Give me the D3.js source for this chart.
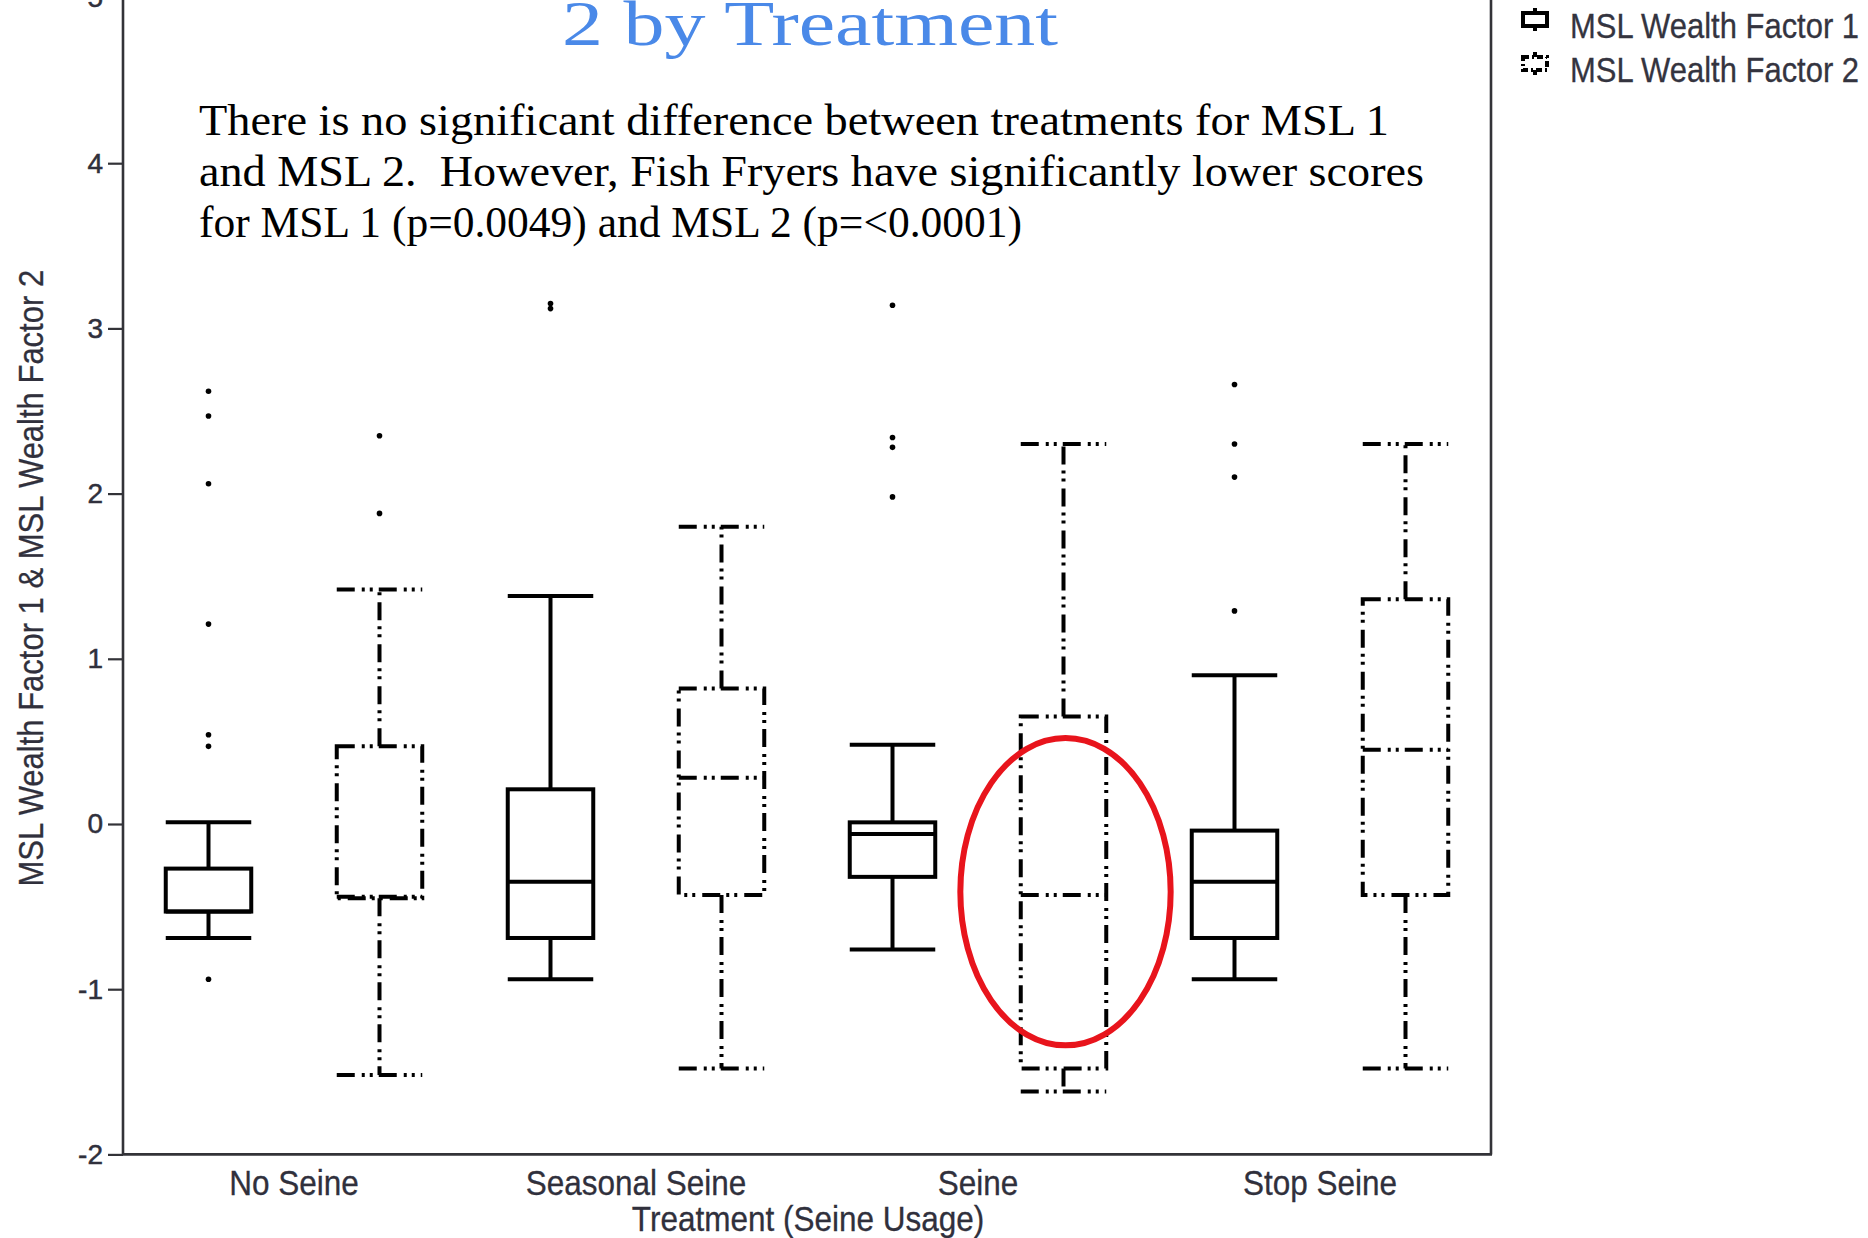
<!DOCTYPE html>
<html><head><meta charset="utf-8">
<script src="https://cdn.jsdelivr.net/npm/d3@7"></script>
<style>body{margin:0;background:#fff;} svg{display:block;} text{white-space:pre;}</style>
</head><body><svg id="chart" width="1868" height="1238"></svg>
<script>
// ---------- data ----------
const categories = ["No Seine", "Seasonal Seine", "Seine", "Stop Seine"];
const seriesNames = ["MSL Wealth Factor 1", "MSL Wealth Factor 2"];
// [lower whisker, Q1, median, Q3, upper whisker]
const factor1Stats = [
  [-0.69, -0.53, -0.53, -0.27, 0.01],
  [-0.94, -0.69, -0.35, 0.21, 1.38],
  [-0.76, -0.32, -0.06, 0.01, 0.48],
  [-0.94, -0.69, -0.35, -0.04, 0.90]
];
const factor2Stats = [
  [-1.52, -0.45, -0.44, 0.47, 1.42],
  [-1.48, -0.43, 0.28, 0.82, 1.80],
  [-1.62, -1.48, -0.43, 0.65, 2.30],
  [-1.48, -0.43, 0.45, 1.36, 2.30]
];
const factor1Outliers = [
  [2.62, 2.47, 2.06, 1.21, 0.54, 0.47, -0.94],
  [3.15, 3.12],
  [3.14, 2.34, 2.28, 1.98],
  [2.66, 2.30, 2.10, 1.29]
];
const factor2Outliers = [[2.35, 1.88], [], [], []];
const yTicks = [-2, -1, 0, 1, 2, 3, 4, 5];
const xTitle = "Treatment (Seine Usage)";
const yTitle = "MSL Wealth Factor 1 & MSL Wealth Factor 2";
const titleText = "2 by Treatment";
const noteLines = [
  "There is no significant difference between treatments for MSL 1",
  "and MSL 2.  However, Fish Fryers have significantly lower scores",
  "for MSL 1 (p=0.0049) and MSL 2 (p=<0.0001)"
];
// highlighted box: Seine / Factor 2, ellipse centre value and half-height (data units)
const highlight = {category: "Seine", series: "MSL Wealth Factor 2", center: -0.41, halfSpan: 0.93};

// ---------- layout ----------
const svg = d3.select("#chart");
const plot = {left: 123, right: 1491, top: -2, bottom: 1154.4};
const x = d3.scaleBand().domain(categories).range([plot.left, plot.right]).padding(0);
const sub = d3.scaleBand().domain(seriesNames).range([0, x.bandwidth()]).padding(0);
const y = d3.scaleLinear().domain([-2, 5]).range([plot.bottom, plot.top]);
const boxW = sub.bandwidth() * 0.5;
const axisColor = "#333338";
const labelColor = "#30303c";
const sansFont = "Arial, 'Liberation Sans', sans-serif";
const serifFont = "'Palatino Linotype', 'Book Antiqua', Palatino, 'Liberation Serif', serif";
const dash2 = "18,7,3,5,3,6";

// ---------- axes ----------
const yAxis = d3.axisLeft(y).tickValues(yTicks).tickSize(15).tickPadding(5).tickFormat(d3.format("d"));
const gy = svg.append("g").attr("transform", `translate(${plot.left},0)`).call(yAxis);
gy.select(".domain").remove();
gy.selectAll(".tick line").attr("stroke", axisColor).attr("stroke-width", 2.2);
gy.selectAll(".tick text")
  .attr("fill", labelColor).attr("font-family", sansFont).attr("font-size", 28)
  .attr("stroke", labelColor).attr("stroke-width", 0.5)
  .text(d => d < 0 ? "-" + Math.abs(d) : d);

svg.append("line").attr("x1", plot.left).attr("x2", plot.left).attr("y1", 0).attr("y2", plot.bottom)
  .attr("stroke", axisColor).attr("stroke-width", 2.6);
svg.append("line").attr("x1", plot.right).attr("x2", plot.right).attr("y1", 0).attr("y2", plot.bottom)
  .attr("stroke", axisColor).attr("stroke-width", 2.6);
svg.append("line").attr("x1", plot.left - 1).attr("x2", plot.right + 1).attr("y1", plot.bottom).attr("y2", plot.bottom)
  .attr("stroke", axisColor).attr("stroke-width", 2.6);

const xAxis = d3.axisBottom(x).tickSize(0).tickPadding(0);
const gx = svg.append("g").attr("transform", `translate(0,${plot.bottom})`).call(xAxis);
gx.select(".domain").remove();
gx.selectAll(".tick text").each(function() {
  const t = d3.select(this);
  t.attr("y", null).attr("dy", null)
   .attr("transform", "translate(0,41) scale(0.9,1)")
   .attr("fill", labelColor).attr("font-family", sansFont).attr("font-size", 35)
   .attr("stroke", labelColor).attr("stroke-width", 0.3);
});

svg.append("text").attr("transform", `translate(${(plot.left + plot.right) / 2 + 1},1231) scale(0.9,1)`)
  .attr("text-anchor", "middle").attr("font-family", sansFont).attr("font-size", 35).attr("fill", labelColor)
  .attr("stroke", labelColor).attr("stroke-width", 0.3)
  .text(xTitle);
svg.append("text").attr("transform", `translate(43,${(y(-2) + y(5)) / 2 + 2}) rotate(-90) scale(0.886,1)`)
  .attr("text-anchor", "middle").attr("font-family", sansFont).attr("font-size", 35).attr("fill", labelColor)
  .attr("stroke", labelColor).attr("stroke-width", 0.3)
  .text(yTitle);

// ---------- boxes ----------
function drawBox(g, cx, s, dashed) {
  const [lo, q1, med, q3, hi] = s;
  const st = sel => {
    sel.attr("stroke", "#000").attr("stroke-width", 4).attr("fill", "none");
    if (dashed) sel.attr("stroke-dasharray", dash2);
    return sel;
  };
  st(g.append("line").attr("x1", cx).attr("x2", cx).attr("y1", y(q3)).attr("y2", y(hi)));
  st(g.append("line").attr("x1", cx).attr("x2", cx).attr("y1", y(q1)).attr("y2", y(lo)));
  st(g.append("line").attr("x1", cx - boxW / 2).attr("x2", cx + boxW / 2).attr("y1", y(hi)).attr("y2", y(hi)));
  st(g.append("line").attr("x1", cx - boxW / 2).attr("x2", cx + boxW / 2).attr("y1", y(lo)).attr("y2", y(lo)));
  st(g.append("rect").attr("x", cx - boxW / 2).attr("y", y(q3)).attr("width", boxW).attr("height", y(q1) - y(q3)));
  st(g.append("line").attr("x1", cx - boxW / 2).attr("x2", cx + boxW / 2).attr("y1", y(med)).attr("y2", y(med)));
}

const gBoxes = svg.append("g");
categories.forEach((c, i) => {
  [factor1Stats, factor2Stats].forEach((stats, k) => {
    const cx = x(c) + sub(seriesNames[k]) + sub.bandwidth() / 2;
    drawBox(gBoxes, cx, stats[i], k === 1);
    const outs = [factor1Outliers, factor2Outliers][k][i];
    gBoxes.selectAll(null).data(outs).enter().append("circle")
      .attr("cx", cx).attr("cy", d => y(d)).attr("r", 2.8).attr("fill", "#000");
  });
});

// ---------- highlight ellipse ----------
const hcx = x(highlight.category) + sub(highlight.series) + sub.bandwidth() / 2;
svg.append("ellipse").attr("cx", hcx + 2).attr("cy", y(highlight.center))
  .attr("rx", boxW * 1.23).attr("ry", y(highlight.center - highlight.halfSpan) - y(highlight.center))
  .attr("fill", "none").attr("stroke", "#e8141c").attr("stroke-width", 6);

// ---------- title & note ----------
svg.append("text").attr("x", 562).attr("y", 45).attr("font-family", serifFont).attr("font-size", 64)
  .attr("fill", "#4a89e8").attr("textLength", 496).attr("lengthAdjust", "spacingAndGlyphs").text(titleText);

const noteWidths = [1190, 1225, 823];
noteLines.forEach((t, i) => {
  svg.append("text").attr("x", 199).attr("y", 135 + i * 51).attr("font-family", serifFont)
    .attr("font-size", 45).attr("fill", "#000").attr("xml:space", "preserve")
    .attr("textLength", noteWidths[i]).attr("lengthAdjust", "spacingAndGlyphs").text(t);
});

// ---------- legend ----------
const lg = svg.append("g");
const legendRows = [{y: 20, dashed: false}, {y: 64, dashed: true}];
legendRows.forEach((r, i) => {
  const g = lg.append("g").attr("transform", `translate(1535,${r.y})`);
  const st = sel => {
    sel.attr("stroke", "#000").attr("stroke-width", 4).attr("fill", "none");
    if (r.dashed) sel.attr("stroke-dasharray", "6,3,2,3");
    return sel;
  };
  st(g.append("rect").attr("x", -12).attr("y", -7).attr("width", 24).attr("height", 13));
  st(g.append("line").attr("x1", 0).attr("x2", 0).attr("y1", -12).attr("y2", -7));
  st(g.append("line").attr("x1", 0).attr("x2", 0).attr("y1", 6).attr("y2", 11));
  lg.append("text").attr("transform", `translate(1570,${r.y + 18}) scale(0.885,1)`)
    .attr("font-family", sansFont).attr("font-size", 35).attr("fill", "#34343f")
    .attr("stroke", "#34343f").attr("stroke-width", 0.3)
    .text(seriesNames[i]);
});
</script>
</body></html>
